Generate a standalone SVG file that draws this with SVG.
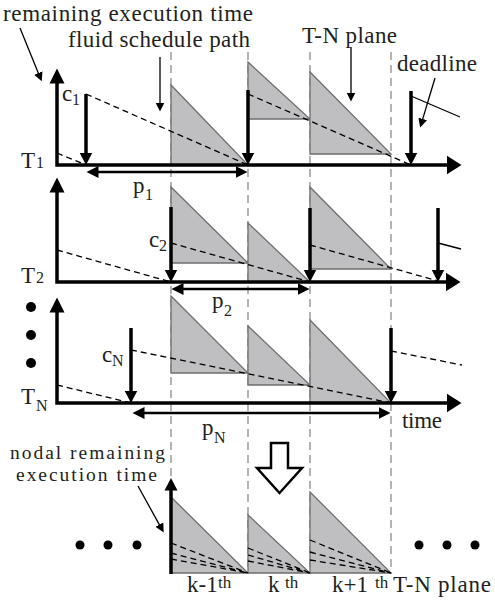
<svg xmlns="http://www.w3.org/2000/svg" width="495" height="604" viewBox="0 0 495 604" font-family="Liberation Serif, Times New Roman, serif">
<style>
text{font-family:"Liberation Serif","Times New Roman",serif;fill:#231f20;font-size:23px}
.sub{font-size:16px}
.sup{font-size:17px}
.lbl2{font-size:19.5px}
.tri{fill:#bfbfc1;stroke:#6e6e6e;stroke-width:1.3}
.grid{stroke:#8c8c8c;stroke-width:1.3;stroke-dasharray:8 5;fill:none}
.axis{stroke:#000;stroke-width:3.5;fill:none;stroke-linejoin:miter;marker-start:url(#axS);marker-end:url(#ax)}
.fluid{stroke:#000;stroke-width:1.3;stroke-dasharray:6 4;fill:none}
.thick{stroke:#000;stroke-width:3.5;fill:none;marker-end:url(#dn)}
.per{stroke:#000;stroke-width:2.5;fill:none;marker-start:url(#pa);marker-end:url(#pa)}
.ptr{stroke:#000;stroke-width:1.3;fill:none;marker-end:url(#sm)}
.thin{stroke:#000;stroke-width:1.3;fill:none}
.dot{fill:#000}
</style>
<defs>
<marker id="ax" markerUnits="userSpaceOnUse" viewBox="0 -11 16 22" markerWidth="16" markerHeight="22" refX="0.5" refY="0" orient="auto"><path d="M0,-9.5 L15,0 L0,9.5 z" fill="#000"/></marker>
<marker id="axS" markerUnits="userSpaceOnUse" viewBox="0 -9 16 18" markerWidth="16" markerHeight="18" refX="0.5" refY="0" orient="auto-start-reverse"><path d="M0,-7.5 L15,0 L0,7.5 z" fill="#000"/></marker>
<marker id="dn" markerUnits="userSpaceOnUse" viewBox="0 -7 13 14" markerWidth="13" markerHeight="14" refX="0.5" refY="0" orient="auto"><path d="M0,-6.5 L12.5,0 L0,6.5 z" fill="#000"/></marker>
<marker id="pa" markerUnits="userSpaceOnUse" viewBox="0 -7 13 14" markerWidth="13" markerHeight="14" refX="0.5" refY="0" orient="auto-start-reverse"><path d="M0,-6 L12,0 L0,6 z" fill="#000"/></marker>
<marker id="sm" markerUnits="userSpaceOnUse" viewBox="0 -5 10 10" markerWidth="10" markerHeight="10" refX="0.5" refY="0" orient="auto"><path d="M0,-4.5 L9,0 L0,4.5 z" fill="#000"/></marker>
</defs>
<rect width="495" height="604" fill="#fff"/>

<g id="grid">
<path class="grid" d="M171,52 V573 M248,52 V573 M310,52 V573 M391,52 V573"/>
</g>

<g id="plane-T1">
<polygon class="tri" points="171,85 248,165 171,165"/>
<polygon class="tri" points="248,62 310,119 248,119"/>
<polygon class="tri" points="310,72 391,154 310,154"/>
<path class="fluid" d="M57,153 L86,165 M86,94 L248,165 M248,94 L411,165"/>
<path class="thin" d="M411,96 L460,117"/>
<path class="axis" d="M57,83 V165 H447"/>
<text x="21" y="168">T</text><text class="sub" x="36" y="168">1</text>
<text x="62" y="101">c</text><text class="sub" x="72" y="105">1</text>
<text x="133" y="193">p</text><text class="sub" x="145" y="200">1</text>
</g>

<g id="plane-T2">
<polygon class="tri" points="171,187 248,263 171,263"/>
<polygon class="tri" points="248,223 310,282 248,282"/>
<polygon class="tri" points="310,187 391,269 310,269"/>
<path class="fluid" d="M57,250 L171,282 M171,243 L310,282 M310,245 L438,281"/>
<path class="thin" d="M438,243 L461,249"/>
<path class="axis" d="M57,192 V282 H446"/>
<text x="21" y="283">T</text><text class="sub" x="36" y="283">2</text>
<text x="149" y="247">c</text><text class="sub" x="159" y="251">2</text>
<text x="212" y="308">p</text><text class="sub" x="224" y="316">2</text>
</g>

<g id="plane-TN">
<polygon class="tri" points="171,296 248,373 171,373"/>
<polygon class="tri" points="248,326 310,385 248,385"/>
<polygon class="tri" points="310,320 391,403 310,403"/>
<path class="fluid" d="M57,385 L131,403 M131,350 L391,403 M391,351 L462,365"/>
<path class="axis" d="M57,312 V403 H447"/>
<text x="21" y="404">T</text><text class="sub" x="36" y="411">N</text>
<text x="102" y="362">c</text><text class="sub" x="112" y="366">N</text>
<text x="202" y="435">p</text><text class="sub" x="214" y="443">N</text>
<text x="402" y="428" textLength="40">time</text>
</g>

<g id="ellipsis-tasks">
<circle class="dot" cx="31" cy="307" r="5"/>
<circle class="dot" cx="31" cy="335" r="5"/>
<circle class="dot" cx="31" cy="363" r="5"/>
</g>

<g id="plane-nodal">
<polygon class="tri" points="171,497 248,573 171,573"/>
<polygon class="tri" points="248,515 310,573 248,573"/>
<polygon class="tri" points="310,492 391,573 310,573"/>
<path class="fluid" d="M171,543 L248,573 M171,553 L248,573 M171,559 L248,573 M248,548 L310,573 M248,555 L310,573 M248,561 L310,573 M310,540 L391,573 M310,552 L391,573 M310,560 L391,573"/>
<path class="thick" d="M171,574 V490"/>
<circle class="dot" cx="80" cy="545" r="4.5"/>
<circle class="dot" cx="108" cy="545" r="4.5"/>
<circle class="dot" cx="137" cy="545" r="4.5"/>
<circle class="dot" cx="419" cy="545" r="4.5"/>
<circle class="dot" cx="447" cy="545" r="4.5"/>
<circle class="dot" cx="475" cy="545" r="4.5"/>
<text x="187" y="592">k-1</text><text class="sup" x="218" y="588">th</text>
<text x="268" y="592">k</text><text class="sup" x="285" y="588">th</text>
<text x="332" y="592">k+1</text><text class="sup" x="375" y="588">th</text>
<text x="393" y="592" textLength="98">T-N plane</text>
</g>

<g id="transform-arrow">
<polygon points="271,443 288,443 288,468 302,468 279.5,493 257,468 271,468" fill="#fff" stroke="#000" stroke-width="2.5" stroke-linejoin="miter"/>
</g>

<g id="connectors">
<path class="thick" d="M86,94 V153"/>
<path class="thick" d="M248,90 V153"/>
<path class="thick" d="M411,91 V153"/>
<path class="thick" d="M171,207 V270"/>
<path class="thick" d="M310,208 V270"/>
<path class="thick" d="M438,208 V270"/>
<path class="thick" d="M131,328 V391"/>
<path class="thick" d="M391,328 V391"/>
<path class="per" d="M98,172 H236"/>
<path class="per" d="M183,289 H298"/>
<path class="per" d="M144,413 H379"/>
<path class="ptr" d="M20,28 L38.5,73.5"/>
<path class="ptr" d="M160,57 V103"/>
<path class="ptr" d="M351,47 V93"/>
<path class="ptr" d="M435,78 L422.6,119.4"/>
<path class="ptr" d="M138,486 L159.6,525.1"/>
</g>

<g id="annotations">
<text x="3" y="21" textLength="250">remaining execution time</text>
<text x="68" y="47" textLength="182">fluid schedule path</text>
<text x="302" y="43" textLength="95">T-N plane</text>
<text x="397" y="71" textLength="80">deadline</text>
<text class="lbl2" x="10" y="459" textLength="155">nodal remaining</text>
<text class="lbl2" x="16" y="481" textLength="141">execution time</text>
</g>
</svg>
